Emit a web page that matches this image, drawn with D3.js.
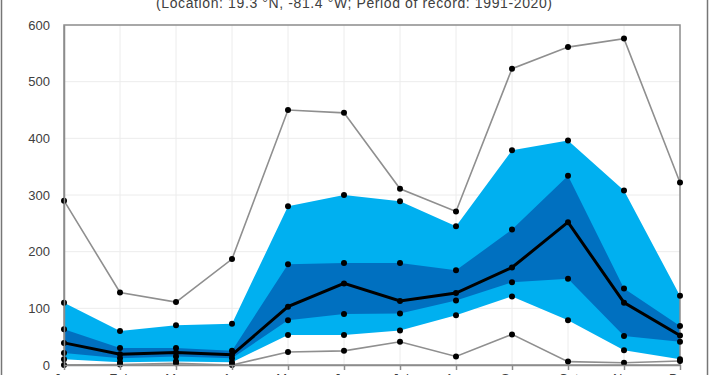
<!DOCTYPE html>
<html>

<head>
  <meta charset="utf-8">
  <script src="https://cdn.jsdelivr.net/npm/d3@7"></script>
  <style>
    body { margin: 0; background: white; }
    svg { display: block; font-family: "Liberation Sans", "Open Sans", sans-serif; }
  </style>
</head>

<body>
  <script>
    const months = ['Jan', 'Feb', 'Mar', 'Apr', 'May', 'Jun', 'Jul', 'Aug', 'Sep', 'Oct', 'Nov', 'Dec']
    const maxVals = [290, 128, 111, 187, 450, 445, 311, 271, 523, 561, 576, 322]
    const p90 = [110, 60, 70, 73, 280, 300, 289, 245, 379, 396, 308, 122]
    const p75 = [63, 30, 30, 25, 178, 180, 180, 167, 239, 334, 135, 69]
    const median = [39, 19, 22, 18, 103, 144, 113, 127, 172, 252, 110, 52]
    const p25 = [21, 12, 15, 12, 79, 90, 91, 114, 146, 152, 51, 41]
    const p10 = [10, 5, 6, 5, 53, 53, 61, 88, 121, 79, 26, 10]
    const minVals = [0, 1, 3, 0, 23, 25, 41, 15, 54, 6, 4, 7]
    const yTicks = [0, 100, 200, 300, 400, 500, 600]
    const subtitle = '(Location: 19.3 °N, -81.4 °W; Period of record: 1991-2020)'

    const width = 710, height = 375
    const margin = {left: 64, right: 30, top: 25, bottom: 10}

    const svg = d3.select('body').append('svg')
      .attr('width', width)
      .attr('height', height)

    // outer chart frame
    svg.append('rect')
      .attr('x', 1.5).attr('y', -20)
      .attr('width', 706).attr('height', 420)
      .attr('fill', 'white')
      .attr('stroke', '#767676')
      .attr('stroke-width', 1.5)

    const x = d3.scalePoint().domain(months).range([margin.left, width - margin.right])
    const y = d3.scaleLinear().domain([0, 600]).range([height - margin.bottom, margin.top])

    // gridlines
    svg.append('g').selectAll('line').data(yTicks.slice(1, -1)).join('line')
      .attr('x1', margin.left).attr('x2', width - margin.right)
      .attr('y1', d => y(d)).attr('y2', d => y(d))
      .attr('stroke', '#ececec')
    svg.append('g').selectAll('line').data(months.slice(1, -1)).join('line')
      .attr('x1', d => x(d)).attr('x2', d => x(d))
      .attr('y1', y(0)).attr('y2', y(600))
      .attr('stroke', '#ececec')

    const rows = months.map((m, i) => ({
      m, max: maxVals[i], p90: p90[i], p75: p75[i], med: median[i],
      p25: p25[i], p10: p10[i], min: minVals[i]
    }))

    const band = (lo, hi) => d3.area().x(d => x(d.m)).y0(d => y(d[lo])).y1(d => y(d[hi]))
    svg.append('path').datum(rows).attr('d', band('p10', 'p90')).attr('fill', '#00b0f0')
    svg.append('path').datum(rows).attr('d', band('p25', 'p75')).attr('fill', '#0070c0')

    // plot frame (top and right)
    svg.append('rect')
      .attr('x', margin.left).attr('y', margin.top)
      .attr('width', width - margin.right - margin.left)
      .attr('height', y(0) - margin.top)
      .attr('fill', 'none')
      .attr('stroke', '#8c8c8c')
      .attr('stroke-width', 1.5)

    const line = key => d3.line().x(d => x(d.m)).y(d => y(d[key]))
    ;['max', 'min'].forEach(k => {
      svg.append('path').datum(rows).attr('d', line(k))
        .attr('fill', 'none').attr('stroke', '#8f8f8f').attr('stroke-width', 1.6)
    })
    svg.append('path').datum(rows).attr('d', line('med'))
      .attr('fill', 'none').attr('stroke', 'black').attr('stroke-width', 3)

    ;['max', 'p90', 'p75', 'med', 'p25', 'p10', 'min'].forEach(k => {
      svg.append('g').selectAll('circle').data(rows).join('circle')
        .attr('cx', d => x(d.m)).attr('cy', d => y(d[k]))
        .attr('r', 3).attr('fill', 'black')
    })

    // axes
    const yAxis = svg.append('g')
      .attr('transform', `translate(${margin.left},0)`)
      .call(d3.axisLeft(y).tickValues(yTicks).tickSize(0).tickPadding(14))
    yAxis.select('.domain').attr('stroke', '#8c8c8c').attr('stroke-width', 1.5)
    yAxis.selectAll('text').attr('font-size', 13).attr('fill', '#404040')

    const xAxis = svg.append('g')
      .attr('transform', `translate(0,${y(0)})`)
      .call(d3.axisBottom(x).tickSize(5).tickPadding(4).tickSizeOuter(0))
    xAxis.select('.domain').attr('stroke', '#8c8c8c').attr('stroke-width', 1.5)
    xAxis.selectAll('.tick line').attr('stroke', '#8c8c8c').attr('stroke-width', 1.5)
    xAxis.selectAll('text').attr('font-size', 13).attr('fill', '#404040')

    svg.append('text')
      .attr('x', 354).attr('y', 8)
      .attr('text-anchor', 'middle')
      .attr('font-size', 14)
      .attr('fill', '#404040')
      .attr('textLength', 396)
      .text(subtitle)
  </script>
</body>

</html>
